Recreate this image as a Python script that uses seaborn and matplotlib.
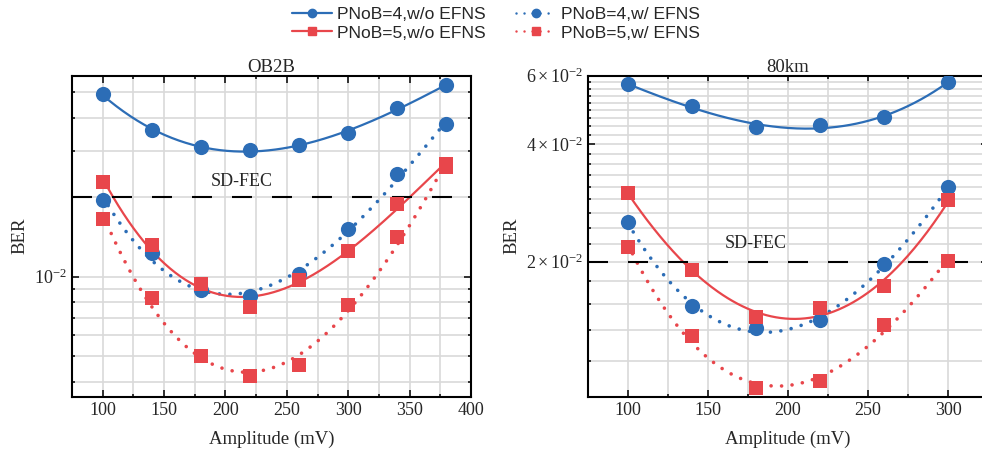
import numpy as np
import matplotlib
matplotlib.use("Agg")
import matplotlib.pyplot as plt
import matplotlib.ticker as mticker
from matplotlib.lines import Line2D
import seaborn as sns

# Amplitude sweep (mV)
amp_b2b = [100, 140, 180, 220, 260, 300, 340, 380]
amp_80km = [100, 140, 180, 220, 260, 300]

# OB2B BER
b2b_p4_wo = [0.0490, 0.0358, 0.0310, 0.0303, 0.0315, 0.0349, 0.0437, 0.0532]
b2b_p4_w = [0.0195, 0.01224, 0.0089, 0.00844, 0.01026, 0.0151, 0.0244, 0.0378]
b2b_p5_wo = [0.0229, 0.01317, 0.00935, 0.00767, 0.00971, 0.0125, 0.0188, 0.0266]
b2b_p5_w = [0.0165, 0.00833, 0.0050, 0.0042, 0.00461, 0.0078, 0.01413, 0.0261]

# 80km BER
km_p4_wo = [0.0570, 0.0502, 0.0442, 0.0448, 0.0469, 0.0579]
km_p4_w = [0.0252, 0.01542, 0.0135, 0.01412, 0.0197, 0.0310]
km_p5_wo = [0.0300, 0.01904, 0.01445, 0.01524, 0.01736, 0.0288]
km_p5_w = [0.02186, 0.01285, 0.0095, 0.00985, 0.01375, 0.0201]

sd_fec = 0.02

sns.set_theme(style="ticks")
plt.rcParams["font.family"] = ["Liberation Serif", "DejaVu Serif"]
plt.rcParams["mathtext.fontset"] = "stix"

blue = "#2c6db6"
red = "#e8464b"
dotted = (0, (0.01, 2.9))


def fit_curve(x, y, deg=3):
    # polynomial fit of log10(BER) vs amplitude
    c = np.polyfit(x, np.log10(y), deg)
    xf = np.linspace(min(x), max(x), 200)
    return xf, 10 ** np.polyval(c, xf)


def draw_panel(ax, x, series, title, xlim, ylim, fec_x, fec_y):
    for y, color, marker, ls, s in series:
        xf, yf = fit_curve(x, y)
        if ls == "-":
            sns.lineplot(x=xf, y=yf, ax=ax, color=color, lw=1.6, sort=False, zorder=2)
        else:
            sns.lineplot(x=xf, y=yf, ax=ax, color=color, lw=2.6, sort=False, zorder=2,
                         dashes=False)
            ax.lines[-1].set_linestyle(dotted)
            ax.lines[-1].set_dash_capstyle("round")
        sns.scatterplot(x=x, y=y, ax=ax, color=color, marker=marker, s=s,
                        edgecolor=color, linewidth=0, zorder=3)
    ax.axhline(sd_fec, color="black", lw=1.5, ls=(0, (9.6, 9.6)), zorder=2.5)
    ax.text(fec_x, fec_y, "SD-FEC", ha="center", va="center", fontsize=13)
    ax.set_yscale("log")
    ax.set_xlim(*xlim)
    ax.set_ylim(*ylim)
    ax.set_title(title, fontsize=13.5, pad=3)
    ax.set_xlabel("Amplitude (mV)", fontsize=13.5, labelpad=9)
    ax.set_ylabel("BER", fontsize=13.5)
    ax.xaxis.set_major_locator(mticker.MultipleLocator(50))
    ax.xaxis.set_minor_locator(mticker.MultipleLocator(25))
    ax.grid(True, which="both", color="#d9d9d9", lw=1.2, zorder=0)
    ax.set_axisbelow(True)
    ax.tick_params(which="both", direction="in", top=True, right=True,
                   width=1.1, labelsize=13, color="black")
    ax.tick_params(which="major", length=5)
    ax.tick_params(which="minor", length=2.5)
    for sp in ax.spines.values():
        sp.set_linewidth(1.5)
        sp.set_color("black")


fig = plt.figure(figsize=(9.82, 4.57), dpi=100)
ax1 = fig.add_axes([0.0733, 0.132, 0.4063, 0.7024])
ax2 = fig.add_axes([0.5985, 0.132, 0.408, 0.7024])

draw_panel(ax1, amp_b2b,
           [(b2b_p4_wo, blue, "o", "-", 120), (b2b_p4_w, blue, "o", ":", 120),
            (b2b_p5_wo, red, "s", "-", 100), (b2b_p5_w, red, "s", ":", 100)],
           "OB2B", (75, 400), (0.00351, 0.0577), 213, 0.0229)
ax1.yaxis.set_minor_formatter(mticker.NullFormatter())

draw_panel(ax2, amp_80km,
           [(km_p4_wo, blue, "o", "-", 120), (km_p4_w, blue, "o", ":", 120),
            (km_p5_wo, red, "s", "-", 100), (km_p5_w, red, "s", ":", 100)],
           "80km", (75, 325), (0.009, 0.06), 180, 0.0223)
ax2.yaxis.set_major_locator(mticker.FixedLocator([0.02, 0.04, 0.06]))
ax2.yaxis.set_major_formatter(mticker.LogFormatterSciNotation(labelOnlyBase=False))
minor = [0.02 / 9 * n for n in range(5, 28) if n % 9 != 0]
ax2.yaxis.set_minor_locator(mticker.FixedLocator(minor))
ax2.yaxis.set_minor_formatter(mticker.NullFormatter())

handles = [
    Line2D([], [], color=blue, lw=1.6, marker="o", ms=6, label="PNoB=4,w/o EFNS"),
    Line2D([], [], color=red, lw=1.6, marker="s", ms=5.5, label="PNoB=5,w/o EFNS"),
    Line2D([], [], color=blue, lw=1.8, ls=(0, (0.01, 3.2)), dash_capstyle="round",
           marker="o", ms=6, label="PNoB=4,w/ EFNS"),
    Line2D([], [], color=red, lw=1.8, ls=(0, (0.01, 3.2)), dash_capstyle="round",
           marker="s", ms=5.5, label="PNoB=5,w/ EFNS"),
]
fig.legend(handles=handles, ncol=2, loc="upper center", bbox_to_anchor=(0.505, 1.02),
           frameon=False, handlelength=2.3, handletextpad=0.3, columnspacing=1.7,
           labelspacing=0.2, prop={"family": "Liberation Sans", "size": 12.6})

fig.savefig("out.png", dpi=100)
